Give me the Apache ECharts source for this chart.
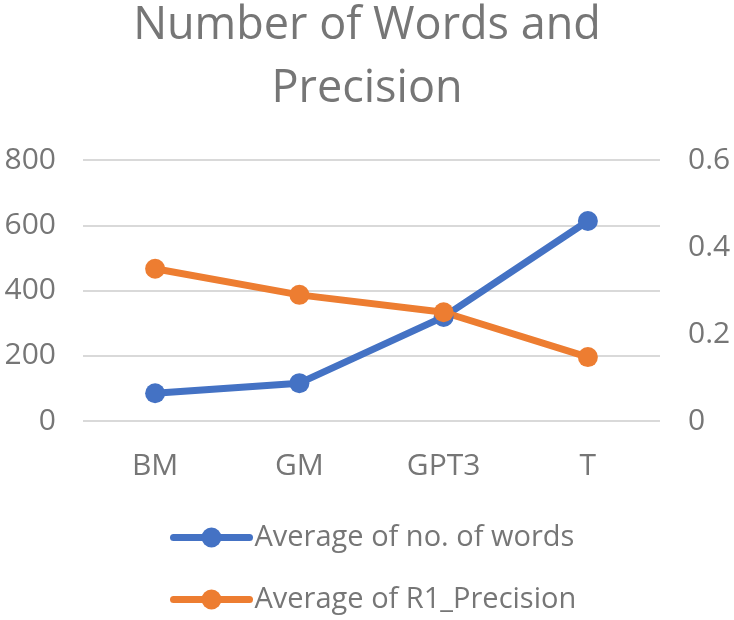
<!DOCTYPE html>
<html><head><meta charset="utf-8">
<script src="https://cdn.jsdelivr.net/npm/echarts@6/dist/echarts.min.js"></script>
<style>html,body{margin:0;padding:0;background:#fff}#c{width:734px;height:620px}</style>
</head><body><div id="c"></div>
<script>
const categories = ['BM', 'GM', 'GPT3', 'T'];
const avgWords = [85, 116, 319, 613];
const avgPrecision = [0.35, 0.29, 0.25, 0.147];
const leftTicks = [0, 200, 400, 600, 800];
const rightTicks = [0, 0.2, 0.4, 0.6];
const seriesNames = ['Average of no. of words', 'Average of R1_Precision'];
const FONT = 'Open Sans';
const GRAY = '#767676';
const legendBase = {
  left: 165, itemWidth: 76, itemHeight: 25,
  textStyle: { fontFamily: FONT, fontSize: 29, color: GRAY },
  lineStyle: { width: 7, cap: 'round' }
};
const chart = echarts.init(document.getElementById('c'));
chart.setOption({
  animation: false,
  title: {
    text: 'Number of Words and\nPrecision',
    left: 'center', top: -10,
    textStyle: { fontFamily: FONT, fontSize: 45, fontWeight: 'normal', color: GRAY, lineHeight: 63 }
  },
  legend: [
    Object.assign({}, legendBase, { top: 518, data: [seriesNames[0]] }),
    Object.assign({}, legendBase, { top: 580, data: [seriesNames[1]] })
  ],
  grid: { left: 83, right: 74, top: 160, bottom: 199 },
  xAxis: {
    type: 'category', data: categories, boundaryGap: true,
    axisLine: { show: false }, axisTick: { show: false },
    axisLabel: { fontFamily: FONT, fontSize: 30, color: GRAY, margin: 30 }
  },
  yAxis: [
    { type: 'value', min: leftTicks[0], max: leftTicks[leftTicks.length-1], interval: 200,
      axisLine: { show: false }, axisTick: { show: false },
      splitLine: { lineStyle: { color: '#d9d9d9', width: 2 } },
      axisLabel: { fontFamily: FONT, fontSize: 30, color: GRAY, margin: 27 } },
    { type: 'value', min: rightTicks[0], max: rightTicks[rightTicks.length-1], interval: 0.2,
      axisLine: { show: false }, axisTick: { show: false }, splitLine: { show: false },
      axisLabel: { fontFamily: FONT, fontSize: 30, color: GRAY, margin: 28 } }
  ],
  series: [
    { name: seriesNames[0], type: 'line', yAxisIndex: 0, data: avgWords,
      symbol: 'circle', symbolSize: 20, color: '#4472c4',
      lineStyle: { width: 7, color: '#4472c4' }, itemStyle: { color: '#4472c4' } },
    { name: seriesNames[1], type: 'line', yAxisIndex: 1, data: avgPrecision,
      symbol: 'circle', symbolSize: 20, color: '#ed7d31',
      lineStyle: { width: 7, color: '#ed7d31' }, itemStyle: { color: '#ed7d31' } }
  ]
});
</script></body></html>
